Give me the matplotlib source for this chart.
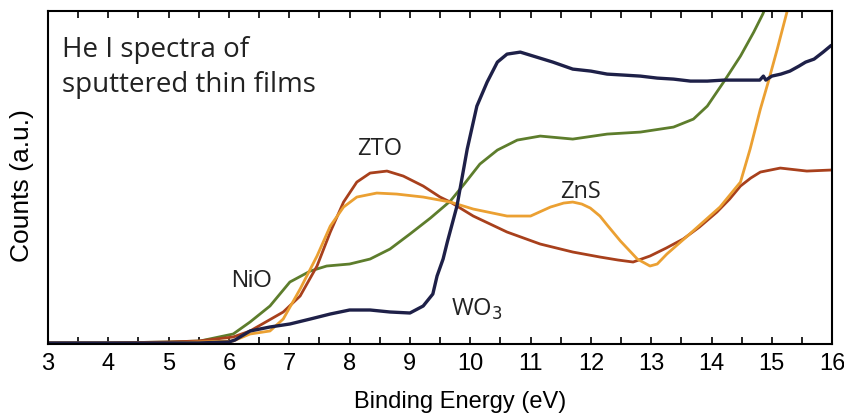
import matplotlib
matplotlib.use("Agg")
import matplotlib.pyplot as plt
from matplotlib.ticker import MultipleLocator

# binding energy (eV) / counts (a.u.)
wo3_e = [3.0, 4.0, 5.0, 5.5, 6.0, 6.1, 6.35, 6.68, 7.01, 7.35, 7.68, 8.0, 8.34, 8.67,
         9.0, 9.22, 9.38, 9.45, 9.55, 9.62, 9.78, 9.95, 10.11, 10.28, 10.45, 10.61,
         10.83, 11.1, 11.37, 11.7, 12.0, 12.27, 12.55, 12.82, 13.1, 13.37, 13.65, 13.93,
         14.2, 14.48, 14.8, 14.86, 14.9, 15.0, 15.15, 15.3, 15.45, 15.56, 15.7, 15.85, 15.97]
wo3_c = [1, 1, 1, 1, 2, 4, 13, 17, 20, 25, 30, 34, 34, 32,
         31, 38, 50, 68, 85, 102, 138, 195, 238, 262, 282, 290,
         292, 287, 282, 275, 273, 270, 269, 268, 266, 265, 263, 263,
         264, 264, 264, 268, 264, 268, 270, 273, 278, 282, 285, 292, 298]

nio_e = [3.0, 4.0, 5.0, 5.52, 6.07, 6.35, 6.68, 7.01, 7.35, 7.62, 8.0, 8.34, 8.67, 9.0,
         9.34, 9.67, 9.9, 10.16, 10.45, 10.78, 11.16, 11.7, 12.27, 12.82, 13.37, 13.7,
         13.93, 14.2, 14.48, 14.7, 14.85, 14.95]
nio_c = [1, 1, 2, 3, 10, 22, 38, 62, 73, 78, 80, 85, 95, 110,
         126, 143, 160, 180, 194, 204, 208, 205, 210, 212, 217, 225,
         238, 262, 288, 312, 330, 345]

zto_e = [3.0, 4.0, 5.0, 5.5, 6.07, 6.35, 6.9, 7.18, 7.46, 7.68, 7.9, 8.12, 8.34, 8.62,
         8.89, 9.22, 9.5, 9.67, 10.05, 10.61, 11.16, 11.7, 12.15, 12.45, 12.7, 12.98,
         13.25, 13.53, 13.8, 14.09, 14.3, 14.48, 14.65, 14.81, 15.14, 15.58, 15.97]
zto_c = [1, 1, 2, 3, 7, 13, 32, 48, 78, 112, 142, 162, 171, 173,
         168, 158, 147, 142, 128, 112, 100, 92, 87, 84, 82, 88,
         96, 105, 117, 132, 145, 158, 166, 172, 176, 173, 174]

zns_e = [3.0, 4.0, 5.0, 5.5, 6.07, 6.35, 6.68, 6.9, 7.18, 7.46, 7.68, 7.9, 8.12, 8.45,
         8.78, 9.22, 9.67, 10.05, 10.61, 11.0, 11.33, 11.55, 11.7, 11.85, 11.99, 12.15,
         12.27, 12.49, 12.77, 12.98, 13.1, 13.26, 13.6, 14.14, 14.48, 14.64, 14.81,
         14.94, 15.09, 15.25]
zns_c = [1, 1, 1, 2, 3, 10, 13, 25, 55, 88, 118, 137, 147, 151,
         150, 147, 142, 135, 128, 128, 137, 141, 142, 140, 136, 128,
         119, 103, 85, 78, 80, 90, 108, 137, 162, 195, 235, 262, 295, 332]

x_ticks = list(range(3, 17))

fig = plt.figure(figsize=(8.45, 4.14), dpi=100)
ax = fig.add_axes([0.0568, 0.1667, 0.928, 0.804])

ax.plot(nio_e, nio_c, color="#5d7d2c", lw=2.0)
ax.plot(zto_e, zto_c, color="#a8401c", lw=2.0)
ax.plot(zns_e, zns_c, color="#eba032", lw=2.0)
ax.plot(wo3_e, wo3_c, color="#1e2048", lw=2.4)

ax.set_xlim(3, 16)
ax.set_ylim(0, 333)
ax.set_xticks(x_ticks)
ax.xaxis.set_minor_locator(MultipleLocator(0.5))
ax.set_yticks([])
ax.tick_params(axis="x", which="both", direction="in", top=True, length=5, width=1.2,
               labelsize=17, pad=6)
for lab in ax.get_xticklabels():
    lab.set_family("Liberation Sans")
for s in ax.spines.values():
    s.set_linewidth(1.5)

ax.set_xlabel("Binding Energy (eV)", fontsize=17, family="Liberation Sans", va="center")
ax.xaxis.set_label_coords(0.525, -0.171)
ax.set_ylabel("Counts (a.u.)", fontsize=19, family="Liberation Sans")
ax.yaxis.set_label_coords(-0.018, 0.48)

lab_font = ["Open Sans", "DejaVu Sans"]
ax.text(3.23, 288, "He I spectra of", fontsize=20, family=lab_font, va="baseline", color="#222222")
ax.text(3.23, 253, "sputtered thin films", fontsize=20, family=lab_font, va="baseline", color="#222222")
ax.text(8.5, 196, "ZTO", fontsize=17, family=lab_font, ha="center", va="center", color="#222222")
ax.text(6.38, 64, "NiO", fontsize=17, family="Liberation Sans", ha="center", va="center", color="#222222")
ax.text(11.82, 153, "ZnS", fontsize=17, family=lab_font, ha="center", va="center", color="#222222")
ax.text(10.11, 36, "WO$_3$", fontsize=17, family=lab_font, ha="center", va="center", color="#222222")

fig.savefig("out.png", dpi=100)
